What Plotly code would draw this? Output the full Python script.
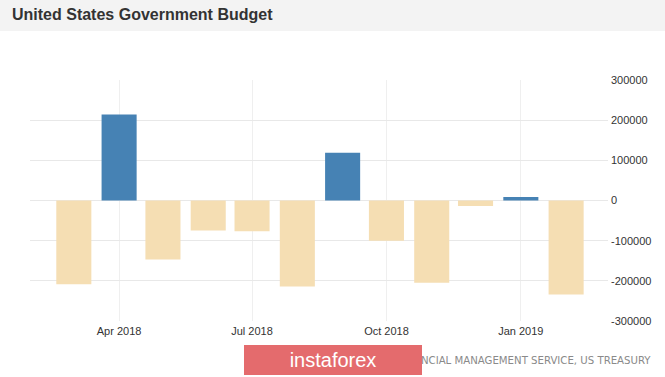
import plotly.graph_objects as go

# Data (USD million)
months = ["2018-03-01", "2018-04-01", "2018-05-01", "2018-06-01", "2018-07-01", "2018-08-01",
          "2018-09-01", "2018-10-01", "2018-11-01", "2018-12-01", "2019-01-01", "2019-02-01"]
budget = [-208745, 214255, -146824, -74859, -76865, -214148,
          119118, -100491, -204937, -13519, 8681, -233996]
y_ticks = [-300000, -200000, -100000, 0, 100000, 200000, 300000]
x_ticks = ["2018-04-01", "2018-07-01", "2018-10-01", "2019-01-01"]
x_tick_labels = ["Apr 2018", "Jul 2018", "Oct 2018", "Jan 2019"]
title_text = "United States Government Budget"
source_text = "ANCIAL MANAGEMENT SERVICE, US TREASURY"
watermark = "instaforex"

W, H = 665, 377
L, R, T, B = 30, 608, 80, 321


def xp(px):
    return (px - L) / (R - L)


def yp(py):
    return (B - py) / (B - T)


colors = ["#4682b4" if v > 0 else "#f5deb3" for v in budget]

fig = go.Figure(go.Bar(
    x=months, y=budget,
    marker=dict(color=colors, line=dict(width=0)),
    width=24 * 86400000,
    hoverinfo="x+y",
))

fig.update_layout(
    width=W, height=H,
    margin=dict(l=L, r=W - R, t=T, b=H - B),
    paper_bgcolor="#ffffff",
    plot_bgcolor="#ffffff",
    showlegend=False,
    font=dict(family="Liberation Sans, Arial, sans-serif", size=11, color="#333333"),
    xaxis=dict(
        type="date",
        range=["2018-01-30", "2019-03-01 16:00"],
        tickvals=x_ticks, ticktext=x_tick_labels,
        showgrid=True, gridcolor="#efefef", gridwidth=1,
        zeroline=False, showline=False, ticks="",
        tickfont=dict(size=11, color="#333333"),
        ticklabelstandoff=2,
        fixedrange=True,
    ),
    yaxis=dict(
        side="right",
        range=[-300000, 300000],
        tickvals=y_ticks, ticktext=[str(v) for v in y_ticks],
        showgrid=True, gridcolor="#e8e8e8", gridwidth=1,
        zeroline=False, showline=False, ticks="",
        tickfont=dict(size=11, color="#333333"),
        ticklabelstandoff=2,
        fixedrange=True,
    ),
    shapes=[
        dict(type="rect", xref="paper", yref="paper",
             x0=xp(0), x1=xp(W), y0=yp(31), y1=yp(0),
             fillcolor="#f3f3f3", line=dict(width=0), layer="below"),
    ],
    annotations=[
        dict(text="<b>" + title_text + "</b>", xref="paper", yref="paper",
             x=xp(10), y=yp(14), xanchor="left", yanchor="middle", showarrow=False,
             font=dict(family="Liberation Sans, Arial, sans-serif", size=16, color="#333333")),
        dict(text=source_text, xref="paper", yref="paper",
             x=xp(653), y=yp(360), xanchor="right", yanchor="middle", showarrow=False,
             font=dict(family="Liberation Sans Narrow, Arial Narrow, DejaVu Sans Condensed, sans-serif",
                       size=11.3, color="#8a8a8a")),
        dict(text=watermark, xref="paper", yref="paper",
             x=xp(333), y=yp(360), xanchor="center", yanchor="middle", showarrow=False,
             width=178, height=30, bgcolor="#e46b6d", borderpad=0, borderwidth=0,
             font=dict(family="Liberation Sans, Arial, sans-serif", size=20, color="#ffffff")),
    ],
)

fig.write_html("out.html", config={"displayModeBar": False},
               post_script="document.body.style.margin='0';")
